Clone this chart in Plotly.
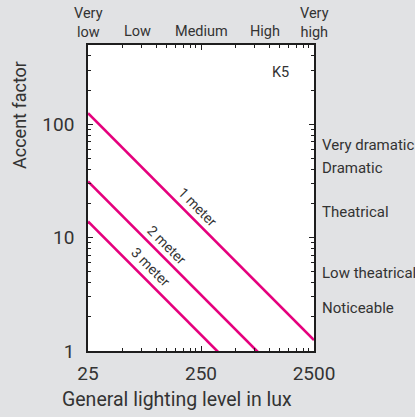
import math
import plotly.graph_objects as go

# Illuminance endpoints (lux) and accent factors for each spot distance
lux = [25, 2500]
accent_1m = [125, 1.25]
accent_2m = [31.25, 0.3125]
accent_3m = [13.9, 0.139]
series_names = ["1 meter", "2 meter", "3 meter"]

# General lighting scale along the top
level_names = ["Very<br>low", "Low", "Medium", "High", "Very<br>high"]
level_lux = [25, 68, 250, 920, 2500]

# Accent impression scale along the right
effect_names = ["Very dramatic", "Dramatic", "Theatrical", "Low theatrical", "Noticeable"]
effect_accent = [66, 41, 17, 4.9, 2.4]

x_ticks = [25, 250, 2500]
y_ticks = [1, 10, 100]

FONT = "Roboto"
TEXT = "#333333"
PINK = "#e5007d"

W, H = 415, 417
L, R, T, B = 88, 101, 45, 66
pw, ph = W - L - R, H - T - B


def px_to_paper(px, py):
    return (px - L) / pw, (H - B - py) / ph


fig = go.Figure()
for name, ys in zip(series_names, [accent_1m, accent_2m, accent_3m]):
    fig.add_trace(go.Scatter(x=lux, y=ys, mode="lines", name=name,
                             line=dict(color=PINK, width=2.6), showlegend=False))

x_minor = [25 * k for k in range(2, 10)] + [250 * k for k in range(2, 10)]
y_minor = [k for k in range(2, 10)] + [10 * k for k in range(2, 10)] + [200, 300, 400]

axis_common = dict(showline=True, linecolor="#1e1e1e", linewidth=1.6, mirror="ticks",
                   ticks="inside", ticklen=5, tickwidth=1, tickcolor="#1e1e1e",
                   showgrid=False, zeroline=False,
                   tickfont=dict(family=FONT, size=19, color=TEXT))

fig.update_xaxes(type="log", range=[math.log10(25), math.log10(2500)],
                 tickvals=x_ticks, ticktext=[str(v) for v in x_ticks],
                 minor=dict(tickvals=x_minor, ticks="inside", ticklen=3, tickcolor="#1e1e1e"),
                 ticklabelstandoff=4, **axis_common)
fig.update_yaxes(type="log", range=[0, math.log10(500)],
                 tickvals=y_ticks, ticktext=[str(v) for v in y_ticks],
                 minor=dict(tickvals=y_minor, ticks="inside", ticklen=3, tickcolor="#1e1e1e"),
                 ticklabelstandoff=8, **axis_common)

ann = []
# Distance labels along each line
for name, lx, ly in zip(series_names, [235, 125, 90], [18.8, 8.67, 5.54]):
    ann.append(dict(x=math.log10(lx), y=math.log10(ly), xref="x", yref="y", text=name,
                    showarrow=False, textangle=45, xanchor="center", yanchor="middle",
                    font=dict(family=FONT, size=14, color=TEXT)))
# Top scale
for name, lx in zip(level_names, level_lux):
    two = "<br>" in name
    ann.append(dict(x=math.log10(lx), y=1.072 if two else 1.0425, xref="x", yref="paper",
                    text=name, showarrow=False, xanchor="center", yanchor="middle",
                    font=dict(family=FONT, size=14.5, color=TEXT)))
# Right scale
for name, ly in zip(effect_names, effect_accent):
    ann.append(dict(x=1, y=math.log10(ly), xref="paper", yref="y", text=name,
                    showarrow=False, xanchor="left", yanchor="middle", xshift=6,
                    font=dict(family=FONT, size=15, color=TEXT)))
ann.append(dict(x=math.log10(1276), y=math.log10(288), xref="x", yref="y", text="K5",
                showarrow=False, xanchor="center", yanchor="middle",
                font=dict(family=FONT, size=14.5, color=TEXT)))
# Axis titles
tx, ty = px_to_paper(177, 400)
ann.append(dict(x=tx, y=ty, xref="paper", yref="paper", text="General lighting level in lux",
                showarrow=False, xanchor="center", yanchor="middle",
                font=dict(family=FONT, size=19.5, color=TEXT)))
tx, ty = px_to_paper(20, 115)
ann.append(dict(x=tx, y=ty, xref="paper", yref="paper", text="Accent factor",
                showarrow=False, textangle=-90, xanchor="center", yanchor="middle",
                font=dict(family=FONT, size=18, color=TEXT)))

fig.update_layout(width=W, height=H, margin=dict(l=L, r=R, t=T, b=B),
                  paper_bgcolor="#e1e2e4", plot_bgcolor="#ffffff",
                  annotations=ann, showlegend=False)

fig.write_html("out.html")
